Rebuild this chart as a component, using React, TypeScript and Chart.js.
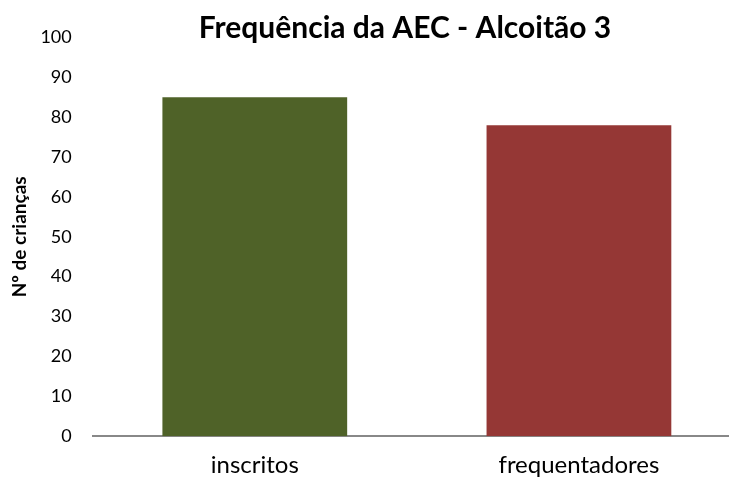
import React, { useEffect, useRef } from "react";
import { Chart, registerables } from "chart.js";

Chart.register(...registerables);

const categories = ["inscritos", "frequentadores"];
const values = [85, 78];
const barColors = ["#4F6228", "#953735"];
const titleText = "Frequência da AEC - Alcoitão 3";
const yTitle = "Nº de crianças";

export default function App() {
  const ref = useRef<HTMLCanvasElement | null>(null);
  useEffect(() => {
    if (!ref.current) return;
    const font = "Lato, 'Open Sans', sans-serif";
    const chart = new Chart(ref.current, {
      type: "bar",
      data: {
        labels: categories,
        datasets: [
          {
            data: values,
            backgroundColor: barColors,
            categoryPercentage: 1,
            barPercentage: 0.57,
          },
        ],
      },
      options: {
        animation: false,
        responsive: false,
        layout: { padding: { left: 0, right: 0, top: 0, bottom: 5 } },
        plugins: {
          legend: { display: false },
          tooltip: { enabled: false },
          title: {
            display: true,
            text: titleText,
            color: "#000",
            font: { family: font, size: 30, weight: "bold" },
            padding: { top: 10, bottom: -8.6 },
          },
        },
        scales: {
          x: {
            grid: { display: false, drawTicks: false },
            border: { display: true, color: "#888", width: 2 },
            ticks: {
              color: "#000",
              font: { family: font, size: 24 },
              padding: 15,
            },
          },
          y: {
            min: 0,
            max: 100,
            grid: { display: false, drawTicks: false },
            border: { display: false },
            ticks: {
              stepSize: 10,
              color: "#000",
              font: { family: font, size: 18 },
              padding: 21,
            },
            title: {
              display: true,
              text: yTitle,
              color: "#000",
              font: { family: font, size: 19, weight: "bold" },
              padding: { top: 8.6, bottom: -12 },
            },
          },
          y2: {
            position: "right",
            display: true,
            grid: { display: false, drawTicks: false },
            border: { display: false },
            ticks: { display: false },
            afterFit: (s: any) => {
              s.width = 69;
            },
          },
        },
      },
    });
    return () => chart.destroy();
  }, []);
  return (
    <div style={{ position: "fixed", left: 0, top: 0, width: 729, height: 484, overflow: "hidden", background: "#fff" }}>
      <canvas ref={ref} width={810} height={500} style={{ display: "block", width: 810, height: 500 }} />
    </div>
  );
}
